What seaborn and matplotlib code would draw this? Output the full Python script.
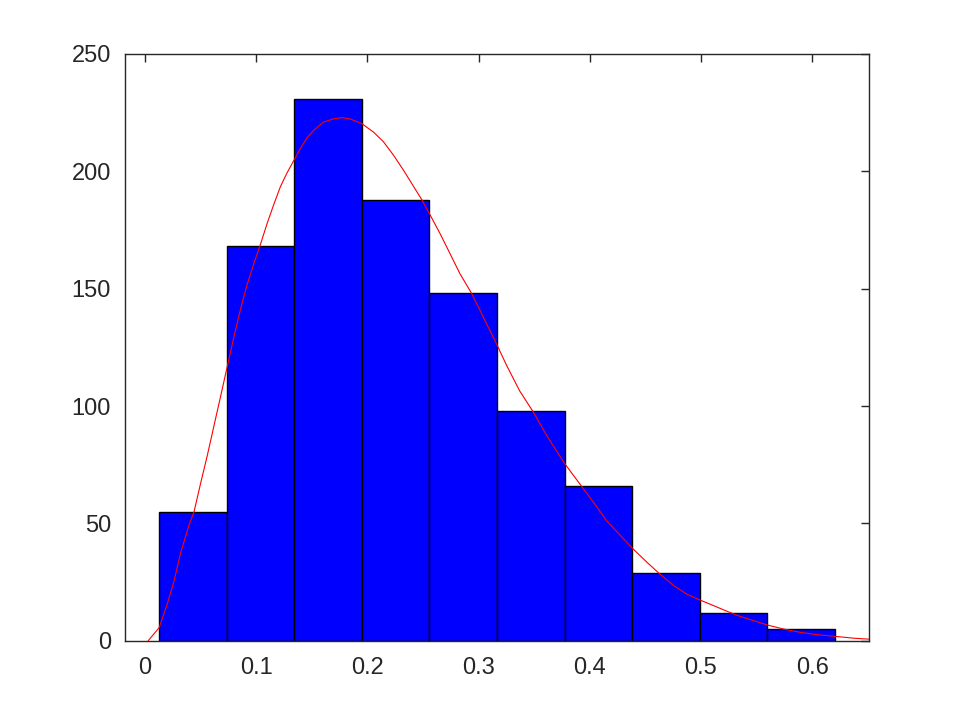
import numpy as np
import pandas as pd
import matplotlib
matplotlib.use("Agg")
import matplotlib.pyplot as plt
import seaborn as sns

# histogram bins
bin_edges = [0.0126, 0.0734, 0.1342, 0.1950, 0.2558, 0.3166, 0.3774, 0.4382, 0.4990, 0.5598, 0.6205]
counts = [55, 168, 231, 188, 148, 98, 66, 29, 12, 5]

# fitted density curve, scaled to counts
curve_x = [0.0027, 0.0126, 0.0201, 0.0261, 0.0320, 0.0395, 0.0440, 0.0500, 0.0560, 0.0620,
           0.0680, 0.0736, 0.0799, 0.0859, 0.0918, 0.0978, 0.1038, 0.1098, 0.1158, 0.1217,
           0.1277, 0.1337, 0.1397, 0.1457, 0.1516, 0.1606, 0.1696, 0.1771, 0.1846, 0.1950,
           0.2055, 0.2144, 0.2234, 0.2324, 0.2413, 0.2488, 0.2557, 0.2653, 0.2742, 0.2832,
           0.2937, 0.3041, 0.3158, 0.3250, 0.3370, 0.3490, 0.3613, 0.3771, 0.3900, 0.4066,
           0.4150, 0.4382, 0.4511, 0.4617, 0.4752, 0.4872, 0.4990, 0.5113, 0.5233, 0.5353,
           0.5474, 0.5600, 0.5744, 0.5894, 0.6045, 0.6207, 0.6376, 0.6510]
curve_y = [0.0, 5.6, 16.0, 25.7, 37.6, 49.4, 55.0, 67.3, 79.1, 91.8,
           104.4, 116.3, 129.6, 141.5, 151.9, 160.8, 169.0, 177.9, 186.0, 193.5,
           199.4, 204.6, 209.8, 214.3, 217.5, 221.0, 222.4, 222.9, 222.3, 220.3,
           216.7, 212.6, 206.9, 200.5, 193.7, 188.0, 182.0, 173.5, 165.0, 156.4,
           148.0, 138.0, 126.8, 117.5, 106.4, 97.6, 87.4, 75.7, 67.5, 56.9,
           51.2, 39.5, 33.6, 29.0, 23.6, 19.9, 17.4, 15.0, 12.6, 10.4,
           8.6, 6.7, 5.0, 3.6, 2.6, 1.9, 1.1, 0.7]

sns.set_style("white")
plt.rcParams['font.family'] = ['Liberation Sans', 'DejaVu Sans']

edges = np.array(bin_edges)
df = pd.DataFrame({"x": (edges[:-1] + edges[1:]) / 2, "n": counts})

fig = plt.figure(figsize=(9.6, 7.2), dpi=100)
ax = fig.add_axes([0.13, 0.11, 0.775, 0.815])

sns.histplot(data=df, x="x", weights="n", bins=bin_edges, ax=ax,
             color="blue", alpha=1, edgecolor="black", linewidth=1)
sns.lineplot(x=curve_x, y=curve_y, ax=ax, color="red", linewidth=0.8, sort=False)

ax.set_xlim(-0.0183, 0.651)
ax.set_ylim(0, 250)
ax.set_xticks([0, 0.1, 0.2, 0.3, 0.4, 0.5, 0.6])
ax.set_xticklabels(["0", "0.1", "0.2", "0.3", "0.4", "0.5", "0.6"])
ax.set_yticks([0, 50, 100, 150, 200, 250])
ax.set_xlabel("")
ax.set_ylabel("")

for s in ax.spines.values():
    s.set_visible(True)
    s.set_color("#262626")
    s.set_linewidth(1)
ax.tick_params(direction="in", top=True, right=True, length=6, width=1,
               color="#262626", labelcolor="#262626", labelsize=17)
ax.tick_params(axis="x", pad=12)
ax.tick_params(axis="y", pad=10)
ax.set_axisbelow(False)

fig.savefig("out.png", dpi=100)
